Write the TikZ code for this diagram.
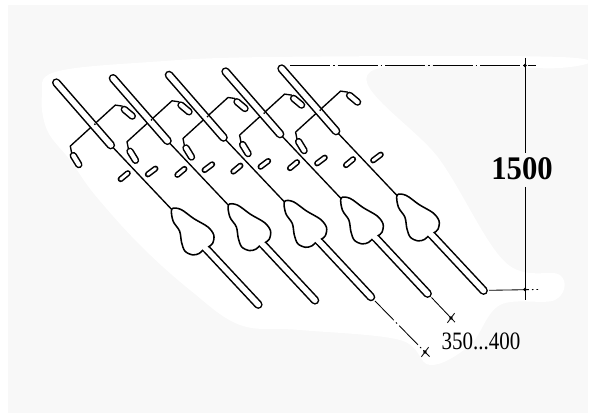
\documentclass[tikz,border=0pt]{standalone}
\usepackage{fontspec}
\setmainfont{Liberation Serif}
\definecolor{bggray}{gray}{0.973}

% a hollow tube: black outline of the given outer width, white core
\newcommand\tube[3]{%
  \draw[line width=#1pt, line cap=round] #2 -- #3;
  \draw[white, line width=#1pt-3.1pt, line cap=round] #2 -- #3;}

% one hanger: top tube, cross arm with hooks, pegs, grip and lower tube
\newcommand\rackunit[2]{%
  \begin{scope}[shift={(#1,#2)}]
    \draw[thinln] (15.5,71) -- (14,63.5) -- (59,22.5) -- (66,23.5);
    \draw[thinln] (54,62) -- (115.5,127);
    \tube{8.6}{(0,0)}{(54.5,62.5)}
    \fill (38.6,41.6) circle (1);
    \tube{7.4}{(68,26.8)}{(76,33.5)}
    \tube{7.4}{(17,73)}{(22.5,82)}
    \tube{6}{(64.3,96.6)}{(71.5,90.6)}
    \tube{6}{(91.5,91.8)}{(99.2,86)}
    \tube{8.6}{(146,162)}{(202,222)}
    \draw[bellln, fill=white] plot[smooth cycle, tension=0.55] coordinates {
      (115.5,126.5) (124.5,126.8) (137.5,136) (151.5,144.3) (157.5,152.5)
      (156.3,160.8) (151.8,164.5) (147,167.2) (143,170.8) (136.5,172.3)
      (128.8,168.7) (125.3,160) (123.3,148.5) (116.8,138.5)};
    \draw[white, line width=5.4pt] (146,162.3) -- (150.6,167.2);
  \end{scope}}

\begin{document}
\begin{tikzpicture}[x=1pt, y=-1pt,
  thinln/.style={line width=1.35pt, line cap=round, line join=round},
  bellln/.style={line width=1.55pt, line join=round},
  dimln/.style={line width=0.85pt},
  dashdot/.style={dimln, dash pattern=on 40pt off 3pt on 1.5pt off 3pt},
  tickdot/.style={fill=black}]
\useasboundingbox (0,0) rectangle (595,419);
\fill[white] (0,0) rectangle (595,419);
\fill[bggray] (8,5) rectangle (588,413);
\fill[white] plot[smooth cycle, tension=0.6] coordinates {
  (42,95) (55,72) (150,62) (270,57) (560,57) (560,68) (370,72)
  (440,160) (505,262) (560,275) (555,300) (500,305) (470,345)
  (430,365) (400,340) (300,330) (240,325) (190,290) (140,245)
  (95,195) (70,160) (47,130)};

% five hangers in a row
\rackunit{56.3}{82.6}
\rackunit{113}{78.3}
\rackunit{169}{75}
\rackunit{225.6}{71.6}
\rackunit{281.6}{68.6}

% height dimension
\coordinate (topA) at (290,65.5);
\coordinate (tickT) at (525,65.5);
\coordinate (topB) at (536,65.5);
\coordinate (botA) at (489,290.3);
\coordinate (tickB) at (525,289.5);
\coordinate (botB) at (538,289.5);
\draw[dashdot] (topA) -- (topB);
\draw[dashdot] (botA) -- (botB);
\draw[dimln] (525,58) -- (525,153);
\draw[dimln] (525,187) -- (525,300);
\fill[tickdot] (tickT) circle (1.8);
\fill[tickdot] (tickB) circle (1.8);
\node[font=\fontsize{33}{33}\selectfont\bfseries, xscale=0.93] (hlabel) at (522,168.5) {1500};

% spacing dimension
\coordinate (endC) at (375,301);
\coordinate (endD) at (431.5,297.5);
\coordinate (t1) at (451,318);
\coordinate (t2) at (425,352);
\draw[dimln] (endD) -- (455,322.2);
\draw[dimln, dash pattern=on 27pt off 3pt on 1.5pt off 3pt] (endC) -- (429.5,356.6);
\draw[dimln] (447.4,322.8) -- (454.6,313.2);
\draw[dimln] (421.4,356.8) -- (428.6,347.2);
\fill[tickdot] (t1) circle (1.8);
\fill[tickdot] (t2) circle (1.8);
\node[font=\fontsize{25}{25}\selectfont, xscale=0.84] (wlabel) at (481,341.5) {350...400};
\end{tikzpicture}
\end{document}
